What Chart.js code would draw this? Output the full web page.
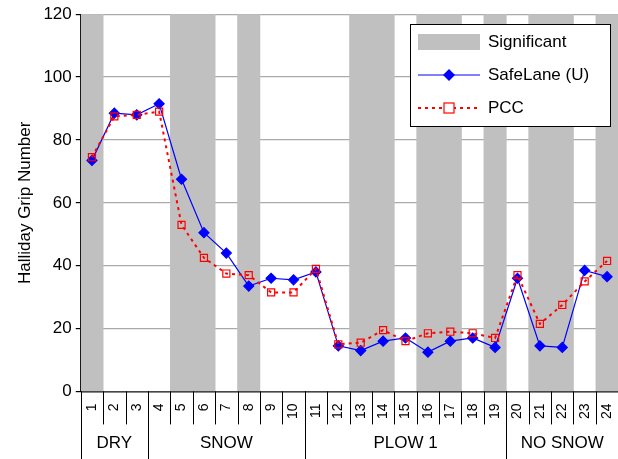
<!DOCTYPE html><html><head><script src="https://cdn.jsdelivr.net/npm/chart.js@4"></script>
<style>html,body{margin:0;background:#fff;overflow:hidden}#o{width:618px;height:459px;overflow:hidden}#w{width:628px;height:459px}</style></head><body><div id="o"><div id="w"><canvas id="c"></canvas></div></div>
<script>
const categories=['1','2','3','4','5','6','7','8','9','10','11','12','13','14','15','16','17','18','19','20','21','22','23','24'];
const significant=[1,0,0,0,1,1,0,1,0,0,0,0,1,1,0,1,1,0,1,0,1,1,0,1];
const safeLane=[73.5,88.5,88,91.5,67.5,50.5,44,33.5,36,35.5,38,14.5,13,16,17,12.5,16,17,14,36,14.5,14,38.5,36.5];
const pcc=[74.5,87.5,88,89,53,42.5,37.5,37,31.5,31.5,39,15,15.5,19.5,16,18.5,19,18.5,17,37,21.5,27.5,35,41.5];
const groups=[{label:'DRY',from:0,to:2},{label:'SNOW',from:3,to:9},{label:'PLOW 1',from:10,to:18},{label:'NO SNOW',from:19,to:23}];
const yTicks=[0,20,40,60,80,100,120];
const F='"Liberation Sans", Arial, sans-serif';
const extra={id:'extra',afterDraw(ch){
 const c=ch.ctx,x=ch.scales.x,a=ch.chartArea,w=(a.right-a.left)/categories.length;
 c.save();c.strokeStyle='#000';c.lineWidth=1;
 for(let i=0;i<=categories.length;i++){const px=Math.round(a.left+i*w)+0.5;c.beginPath();c.moveTo(px,a.bottom);c.lineTo(px,a.bottom+33);c.stroke();}
 c.font='17px '+F;c.fillStyle='#000';c.textAlign='center';c.textBaseline='middle';
 groups.forEach((g,i)=>{const l=a.left+g.from*w,r=a.left+(g.to+1)*w;
  c.beginPath();c.moveTo(Math.round(l)+0.5,a.bottom);c.lineTo(Math.round(l)+0.5,459);c.stroke();
  c.fillText(g.label,(l+r)/2,a.bottom+52);});
 c.beginPath();c.moveTo(a.left,a.bottom+0.5);c.lineTo(a.right,a.bottom+0.5);c.stroke();
 // legend
 const lx=410,ly=24,lw=200,lh=102;
 c.fillStyle='#fff';c.fillRect(lx,ly,lw,lh);c.strokeRect(lx+0.5,ly+0.5,lw,lh);
 c.fillStyle='#c0c0c0';c.fillRect(lx+8,ly+10,62,16);
 c.textAlign='left';c.fillStyle='#000';c.font='17px '+F;
 c.fillText('Significant',lx+78,ly+18);c.fillText('SafeLane (U)',lx+78,ly+51);c.fillText('PCC',lx+78,ly+84);
 c.strokeStyle='#0000ff';c.lineWidth=1.2;c.beginPath();c.moveTo(lx+8,ly+51);c.lineTo(lx+70,ly+51);c.stroke();
 c.fillStyle='#0000ff';c.beginPath();const dx=lx+39,dy=ly+51;c.moveTo(dx,dy-6);c.lineTo(dx+6,dy);c.lineTo(dx,dy+6);c.lineTo(dx-6,dy);c.fill();
 c.strokeStyle='#ff0000';c.lineWidth=2;c.setLineDash([3,4]);c.beginPath();c.moveTo(lx+8,ly+84);c.lineTo(lx+70,ly+84);c.stroke();c.setLineDash([]);
 c.lineWidth=1.2;c.fillStyle='#fff';c.fillRect(lx+34,ly+79,10,10);c.strokeRect(lx+34,ly+79,10,10);
 c.restore();}};
new Chart(document.getElementById('c'),{data:{labels:categories,datasets:[
 {type:'bar',data:significant.map(v=>v?120:null),backgroundColor:'#c0c0c0',barPercentage:1,categoryPercentage:1,order:3},
 {type:'line',data:safeLane,borderColor:'#0000ff',borderWidth:1.2,pointStyle:'rectRot',pointRadius:5,pointBackgroundColor:'#0000ff',pointBorderColor:'#0000ff',tension:0,order:2},
 {type:'line',data:pcc,borderColor:'#ff0000',borderWidth:2,borderDash:[3,4],pointStyle:'rect',pointRadius:5,pointBackgroundColor:'rgba(0,0,0,0)',pointBorderColor:'#ff0000',pointBorderWidth:1.2,tension:0,order:1}]},
 options:{responsive:true,maintainAspectRatio:false,animation:false,layout:{padding:{top:12,right:0,bottom:36,left:11}},
 plugins:{legend:{display:false},tooltip:{enabled:false}},
 scales:{x:{offset:true,grid:{display:false},border:{display:false},ticks:{minRotation:90,maxRotation:90,font:{size:14,family:F},color:'#000',padding:4}},
 y:{min:0,max:120,afterBuildTicks(s){s.ticks=yTicks.map(v=>({value:v}));},grid:{color:'#aaa',lineWidth:1.2,borderDash:[1,3],drawTicks:true,tickLength:5,tickColor:'#000'},border:{color:'#000'},
  ticks:{font:{size:17,family:F},color:'#000',padding:4},title:{display:true,text:'Halliday Grip Number',font:{size:17,family:F},color:'#000'}}}},
 plugins:[extra]});
</script></body></html>
